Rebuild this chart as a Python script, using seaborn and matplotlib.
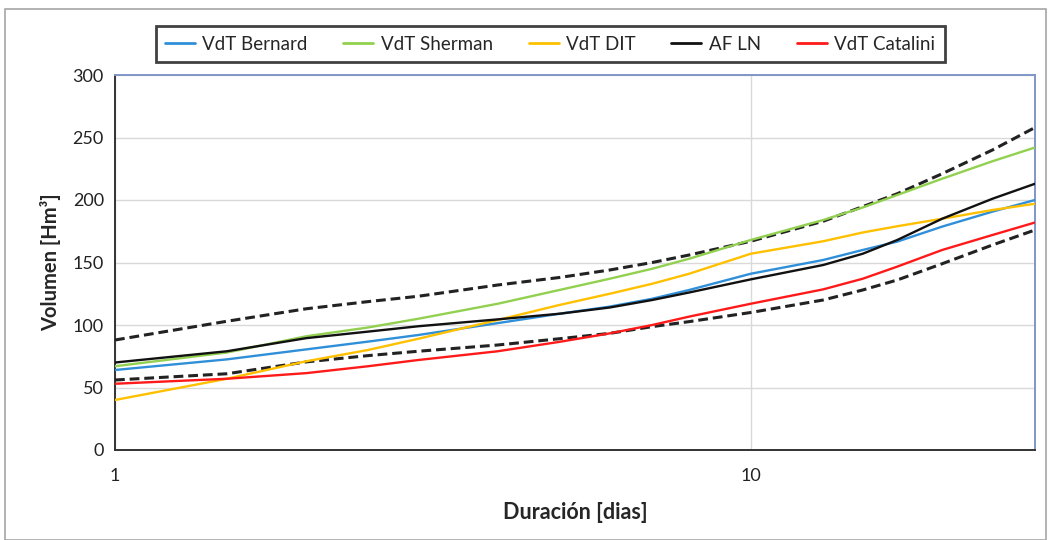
import matplotlib
matplotlib.use("Agg")
import numpy as np
import pandas as pd
import seaborn as sns
import matplotlib.pyplot as plt
from matplotlib.ticker import MultipleLocator, FixedLocator, NullFormatter, FixedFormatter
from matplotlib.patches import Rectangle

# ---- data ----
duracion = [1, 1.5, 2, 2.5, 3, 4, 5, 6, 7, 8, 10, 13, 15, 17, 20, 24, 28]
vdt_bernard = [64, 72.5, 80.5, 86.7, 92, 101.5, 109, 114.7, 121, 128, 141, 152, 160, 166.7, 178.7, 190.7, 200]
vdt_sherman = [67, 78, 91, 98, 105, 117, 128, 137, 145, 153, 168, 184, 194, 204, 217, 231, 242]
vdt_dit = [40, 57, 71, 80, 89, 104, 116, 125, 133, 141, 157, 167, 174, 179, 185, 192, 197]
af_ln = [70, 79, 89.5, 94.7, 99, 104.5, 109, 114, 120, 126, 136.5, 148, 157, 168, 185, 201, 213]
vdt_catalini = [53, 57, 61.5, 67, 72, 79, 86.5, 93.3, 100, 106.7, 117, 128.5, 137, 146.7, 160, 172, 182]
af_ln_sup = [88, 103, 113, 118.7, 123, 132, 138, 144, 150, 156, 167, 183, 194.7, 205, 221, 240, 258]
af_ln_inf = [56, 61, 70.5, 75.5, 79, 84, 89, 93.3, 98.7, 102.7, 110, 120, 128, 136, 149, 164, 176]

series_names = ["VdT Bernard", "VdT Sherman", "VdT DIT", "AF LN", "VdT Catalini"]
series_vals = [vdt_bernard, vdt_sherman, vdt_dit, af_ln, vdt_catalini]
series_colors = ["#2F8FD8", "#92D050", "#FFC000", "#111111", "#FF1A1A"]

y_ticks = [0, 50, 100, 150, 200, 250, 300]
x_tick_labels = ["1", "10"]

sns.set_style("white")
plt.rcParams["font.family"] = ["Lato", "DejaVu Sans"]

fig = plt.figure(figsize=(10.5, 5.4), dpi=100)
ax = fig.add_axes([115 / 1050, 1 - 450 / 540, (1035 - 115) / 1050, (450 - 75) / 540])

# outer chart-area border
fig.patches.append(Rectangle((5 / 1050, 0.0), 1041 / 1050, 1 - 9 / 540,
                             transform=fig.transFigure, fill=False,
                             edgecolor="#A6A6A6", linewidth=1.2, zorder=0))

# dashed confidence bands
for vals in (af_ln_sup, af_ln_inf):
    sns.lineplot(x=duracion, y=vals, ax=ax, color="#222222", linewidth=2.2,
                 linestyle=(0, (3.2, 1.6)), legend=False, zorder=3)

for name, vals, col in zip(series_names, series_vals, series_colors):
    sns.lineplot(x=duracion, y=vals, ax=ax, color=col, linewidth=1.7,
                 label=name, zorder=4)

ax.set_xscale("log")
ax.set_xlim(1, 28)
ax.set_ylim(0, 300)

ax.yaxis.set_major_locator(FixedLocator(y_ticks))
ax.yaxis.set_minor_locator(MultipleLocator(10))
ax.xaxis.set_major_locator(FixedLocator([1, 10]))
ax.xaxis.set_major_formatter(FixedFormatter(x_tick_labels))
ax.xaxis.set_minor_locator(FixedLocator([2, 3, 4, 5, 6, 7, 8, 9, 20]))
ax.xaxis.set_minor_formatter(NullFormatter())

ax.grid(True, which="major", color="#D9D9D9", linewidth=1.0)
ax.set_axisbelow(True)

ax.tick_params(axis="both", which="major", direction="inout", length=8, width=1.2,
               color="#333333", labelsize=13, labelcolor="#222222")
ax.tick_params(axis="both", which="minor", direction="inout", length=5, width=1.0,
               color="#333333")
ax.tick_params(axis="x", which="major", pad=9)
ax.tick_params(axis="y", which="major", pad=4)

for side in ("left", "bottom"):
    ax.spines[side].set_color("#333333")
    ax.spines[side].set_linewidth(1.4)
for side in ("top", "right"):
    ax.spines[side].set_color("#7F96C8")
    ax.spines[side].set_linewidth(1.4)
    ax.spines[side].set_visible(True)

ax.set_xlabel("Duración [dias]", fontsize=15.5, fontweight="bold", labelpad=13)
ax.set_ylabel("Volumen [Hm³]", fontsize=14.5, fontweight="bold", labelpad=8)

leg = ax.legend(loc="center", bbox_to_anchor=(550 / 1050, 1 - 44 / 540),
                bbox_transform=fig.transFigure, ncol=5, frameon=True,
                fancybox=False, fontsize=13.5, handlelength=1.6,
                handletextpad=0.4, columnspacing=1.9, borderpad=0.5)
leg.get_frame().set_edgecolor("#111111")
leg.get_frame().set_linewidth(2.0)
for line in leg.get_lines():
    line.set_linewidth(2.0)

fig.savefig("out.png", dpi=100)
